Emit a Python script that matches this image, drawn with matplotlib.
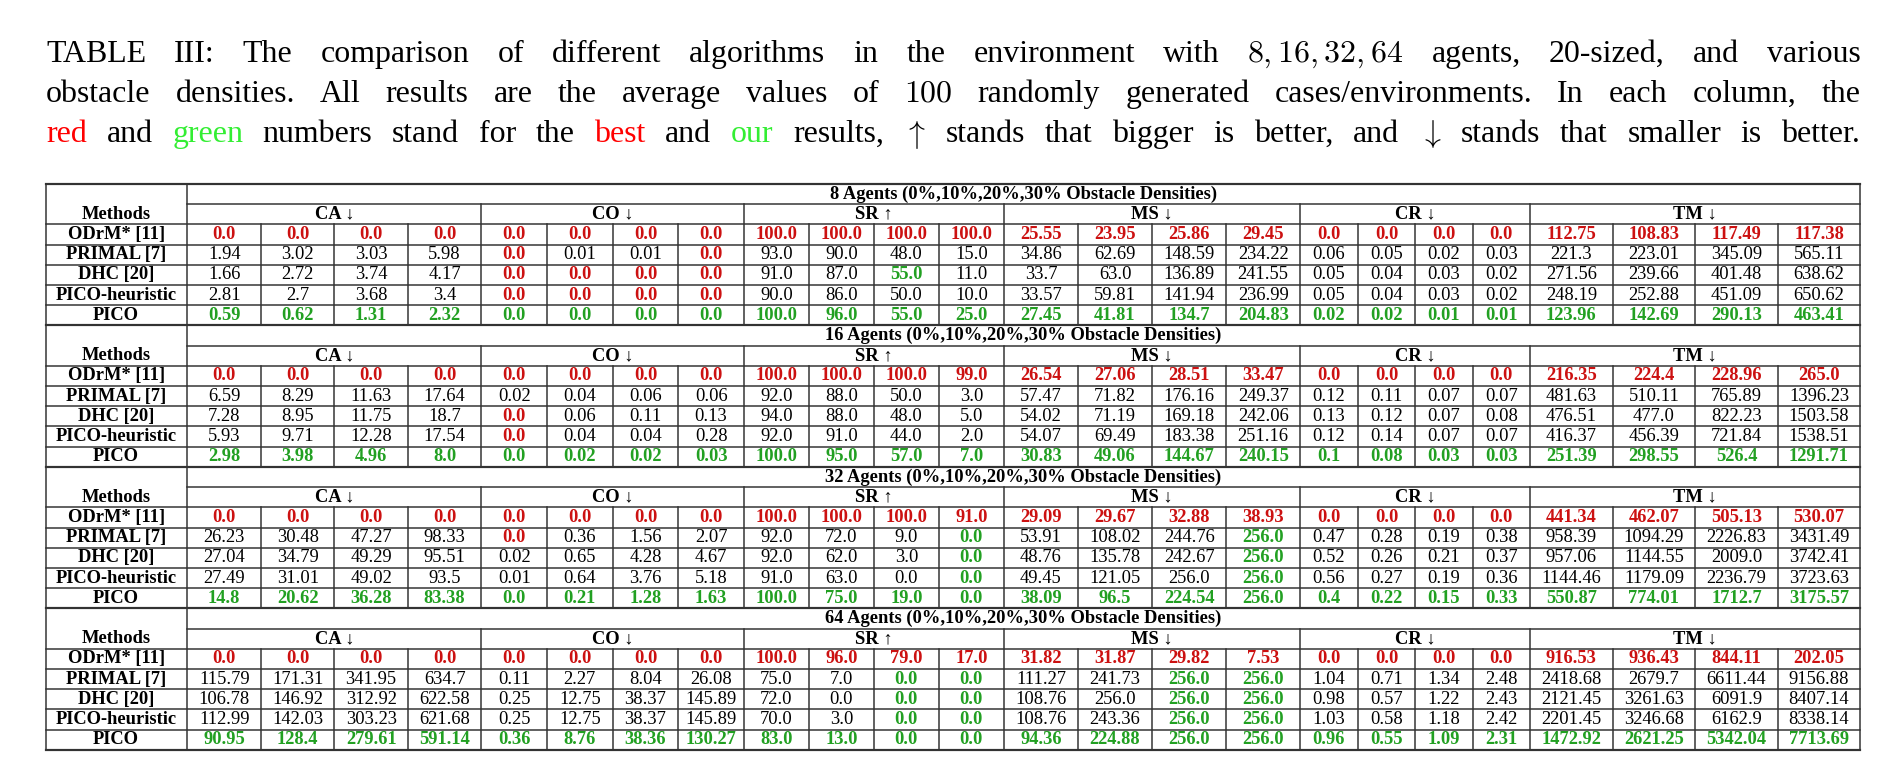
import matplotlib
matplotlib.use("Agg")
import matplotlib.pyplot as plt

plt.rcParams['mathtext.fontset'] = 'cm'

methods = ["ODrM* [11]", "PRIMAL [7]", "DHC [20]", "PICO-heuristic", "PICO"]
metrics = ["CA \u2193", "CO \u2193", "SR \u2191", "MS \u2193", "CR \u2193", "TM \u2193"]
agent_counts = [8, 16, 32, 64]

# each row: CA x4 | CO x4 | SR x4 | MS x4 | CR x4 | TM x4
agents8 = [
    "0.0 0.0 0.0 0.0 0.0 0.0 0.0 0.0 100.0 100.0 100.0 100.0 25.55 23.95 25.86 29.45 0.0 0.0 0.0 0.0 112.75 108.83 117.49 117.38",
    "1.94 3.02 3.03 5.98 0.0 0.01 0.01 0.0 93.0 90.0 48.0 15.0 34.86 62.69 148.59 234.22 0.06 0.05 0.02 0.03 221.3 223.01 345.09 565.11",
    "1.66 2.72 3.74 4.17 0.0 0.0 0.0 0.0 91.0 87.0 55.0 11.0 33.7 63.0 136.89 241.55 0.05 0.04 0.03 0.02 271.56 239.66 401.48 638.62",
    "2.81 2.7 3.68 3.4 0.0 0.0 0.0 0.0 90.0 86.0 50.0 10.0 33.57 59.81 141.94 236.99 0.05 0.04 0.03 0.02 248.19 252.88 451.09 650.62",
    "0.59 0.62 1.31 2.32 0.0 0.0 0.0 0.0 100.0 96.0 55.0 25.0 27.45 41.81 134.7 204.83 0.02 0.02 0.01 0.01 123.96 142.69 290.13 463.41",
]
agents16 = [
    "0.0 0.0 0.0 0.0 0.0 0.0 0.0 0.0 100.0 100.0 100.0 99.0 26.54 27.06 28.51 33.47 0.0 0.0 0.0 0.0 216.35 224.4 228.96 265.0",
    "6.59 8.29 11.63 17.64 0.02 0.04 0.06 0.06 92.0 88.0 50.0 3.0 57.47 71.82 176.16 249.37 0.12 0.11 0.07 0.07 481.63 510.11 765.89 1396.23",
    "7.28 8.95 11.75 18.7 0.0 0.06 0.11 0.13 94.0 88.0 48.0 5.0 54.02 71.19 169.18 242.06 0.13 0.12 0.07 0.08 476.51 477.0 822.23 1503.58",
    "5.93 9.71 12.28 17.54 0.0 0.04 0.04 0.28 92.0 91.0 44.0 2.0 54.07 69.49 183.38 251.16 0.12 0.14 0.07 0.07 416.37 456.39 721.84 1538.51",
    "2.98 3.98 4.96 8.0 0.0 0.02 0.02 0.03 100.0 95.0 57.0 7.0 30.83 49.06 144.67 240.15 0.1 0.08 0.03 0.03 251.39 298.55 526.4 1291.71",
]
agents32 = [
    "0.0 0.0 0.0 0.0 0.0 0.0 0.0 0.0 100.0 100.0 100.0 91.0 29.09 29.67 32.88 38.93 0.0 0.0 0.0 0.0 441.34 462.07 505.13 530.07",
    "26.23 30.48 47.27 98.33 0.0 0.36 1.56 2.07 92.0 72.0 9.0 0.0 53.91 108.02 244.76 256.0 0.47 0.28 0.19 0.38 958.39 1094.29 2226.83 3431.49",
    "27.04 34.79 49.29 95.51 0.02 0.65 4.28 4.67 92.0 62.0 3.0 0.0 48.76 135.78 242.67 256.0 0.52 0.26 0.21 0.37 957.06 1144.55 2009.0 3742.41",
    "27.49 31.01 49.02 93.5 0.01 0.64 3.76 5.18 91.0 63.0 0.0 0.0 49.45 121.05 256.0 256.0 0.56 0.27 0.19 0.36 1144.46 1179.09 2236.79 3723.63",
    "14.8 20.62 36.28 83.38 0.0 0.21 1.28 1.63 100.0 75.0 19.0 0.0 38.09 96.5 224.54 256.0 0.4 0.22 0.15 0.33 550.87 774.01 1712.7 3175.57",
]
agents64 = [
    "0.0 0.0 0.0 0.0 0.0 0.0 0.0 0.0 100.0 96.0 79.0 17.0 31.82 31.87 29.82 7.53 0.0 0.0 0.0 0.0 916.53 936.43 844.11 202.05",
    "115.79 171.31 341.95 634.7 0.11 2.27 8.04 26.08 75.0 7.0 0.0 0.0 111.27 241.73 256.0 256.0 1.04 0.71 1.34 2.48 2418.68 2679.7 6611.44 9156.88",
    "106.78 146.92 312.92 622.58 0.25 12.75 38.37 145.89 72.0 0.0 0.0 0.0 108.76 256.0 256.0 256.0 0.98 0.57 1.22 2.43 2121.45 3261.63 6091.9 8407.14",
    "112.99 142.03 303.23 621.68 0.25 12.75 38.37 145.89 70.0 3.0 0.0 0.0 108.76 243.36 256.0 256.0 1.03 0.58 1.18 2.42 2201.45 3246.68 6162.9 8338.14",
    "90.95 128.4 279.61 591.14 0.36 8.76 38.36 130.27 83.0 13.0 0.0 0.0 94.36 224.88 256.0 256.0 0.96 0.55 1.09 2.31 1472.92 2621.25 5342.04 7713.69",
]
blocks = [agents8, agents16, agents32, agents64]

RED = '#cc1111'
GREEN = '#22a022'

# layout units are those of a 1570-wide view; scale fonts to real pixels
W, H = 1899, 767
VW = 1570
S = W / VW
fig = plt.figure(figsize=(W / 100, H / 100), dpi=100)
ax = fig.add_axes([0, 0, 1, 1])
ax.set_xlim(0, VW)
ax.set_ylim(H / S, 0)
ax.axis('off')
serif = 'Liberation Serif'

caption = [
    [("TABLE", 'k'), ("III:", 'k'), ("The", 'k'), ("comparison", 'k'), ("of", 'k'), ("different", 'k'),
     ("algorithms", 'k'), ("in", 'k'), ("the", 'k'), ("environment", 'k'), ("with", 'k'),
     ("$8, 16, 32, 64$", 'k'), ("agents,", 'k'), ("20-sized,", 'k'), ("and", 'k'), ("various", 'k')],
    [("obstacle", 'k'), ("densities.", 'k'), ("All", 'k'), ("results", 'k'), ("are", 'k'), ("the", 'k'),
     ("average", 'k'), ("values", 'k'), ("of", 'k'), ("$100$", 'k'), ("randomly", 'k'), ("generated", 'k'),
     ("cases/environments.", 'k'), ("In", 'k'), ("each", 'k'), ("column,", 'k'), ("the", 'k')],
    [("red", 'red'), ("and", 'k'), ("green", '#33ee33'), ("numbers", 'k'), ("stand", 'k'), ("for", 'k'),
     ("the", 'k'), ("best", 'red'), ("and", 'k'), ("our", '#33ee33'), ("results,", 'k'), ("$\\uparrow$", 'k'),
     ("stands", 'k'), ("that", 'k'), ("bigger", 'k'), ("is", 'k'), ("better,", 'k'), ("and", 'k'),
     ("$\\downarrow$", 'k'), ("stands", 'k'), ("that", 'k'), ("smaller", 'k'), ("is", 'k'), ("better.", 'k')],
]
fig.canvas.draw()
r = fig.canvas.get_renderer()
left, right = 38, 1538
for li, words in enumerate(caption):
    y = 45 + li * 33
    ts = [ax.text(0, y, w, color=c, fontsize=19 * S, family=serif, va='center') for w, c in words]
    widths = [t.get_window_extent(r).width / S for t in ts]
    gap = (right - left - sum(widths)) / (len(ts) - 1)
    x = left
    for t, wd in zip(ts, widths):
        t.set_x(x)
        x += wd + gap

col_edges = [38, 155]
group_edges = [155, 398, 615, 830, 1075, 1265, 1538]
for g in range(6):
    step = (group_edges[g + 1] - group_edges[g]) / 4
    col_edges += [group_edges[g] + step * (k + 1) for k in range(4)]
top, bottom = 152, 620
rh = (bottom - top) / 28
fs = 11 * S
lw = 0.9 * S

def hline(y, x0=38, x1=1538, w=lw):
    ax.plot([x0, x1], [y, y], color='#333333', lw=w)

def vline(x, y0, y1, w=lw):
    ax.plot([x, x], [y0, y1], color='#333333', lw=w)

for b, (n, rows) in enumerate(zip(agent_counts, blocks)):
    y0 = top + b * 7 * rh
    hline(y0, w=1.3 * S)
    ax.text(846, y0 + rh / 2, f"{n} Agents (0%,10%,20%,30% Obstacle Densities)", fontsize=fs,
            family=serif, weight='bold', ha='center', va='center')
    hline(y0 + rh, 155, 1538)
    ax.text(96, y0 + 1.5 * rh, "Methods", fontsize=fs, family=serif, weight='bold', ha='center', va='center')
    for g, m in enumerate(metrics):
        ax.text((group_edges[g] + group_edges[g + 1]) / 2, y0 + 1.5 * rh, m, fontsize=fs,
                family=serif, weight='bold', ha='center', va='center')
    vals = [row.split() for row in rows]
    for i, (meth, row) in enumerate(zip(methods, vals)):
        yc = y0 + (2.5 + i) * rh
        hline(y0 + (2 + i) * rh)
        ax.text(96, yc, meth, fontsize=fs, family=serif, weight='bold', ha='center', va='center')
        for j, v in enumerate(row):
            if i == 0:
                c, wt = RED, 'bold'
            elif i == 4:
                c, wt = GREEN, 'bold'
            elif float(v) == float(vals[0][j]):
                c, wt = RED, 'bold'
            elif float(v) == float(vals[4][j]):
                c, wt = GREEN, 'bold'
            else:
                c, wt = 'black', 'normal'
            ax.text((col_edges[j + 1] + col_edges[j + 2]) / 2, yc, v, fontsize=fs, family=serif,
                    color=c, weight=wt, ha='center', va='center')
    vline(38, y0, y0 + 7 * rh)
    vline(1538, y0, y0 + 7 * rh)
    vline(155, y0, y0 + 7 * rh)
    for g in group_edges[1:-1]:
        vline(g, y0 + rh, y0 + 7 * rh)
    for x in col_edges[2:-1]:
        if x not in group_edges:
            vline(x, y0 + 2 * rh, y0 + 7 * rh)
hline(bottom, w=1.3 * S)

fig.savefig("out.png", dpi=100)
